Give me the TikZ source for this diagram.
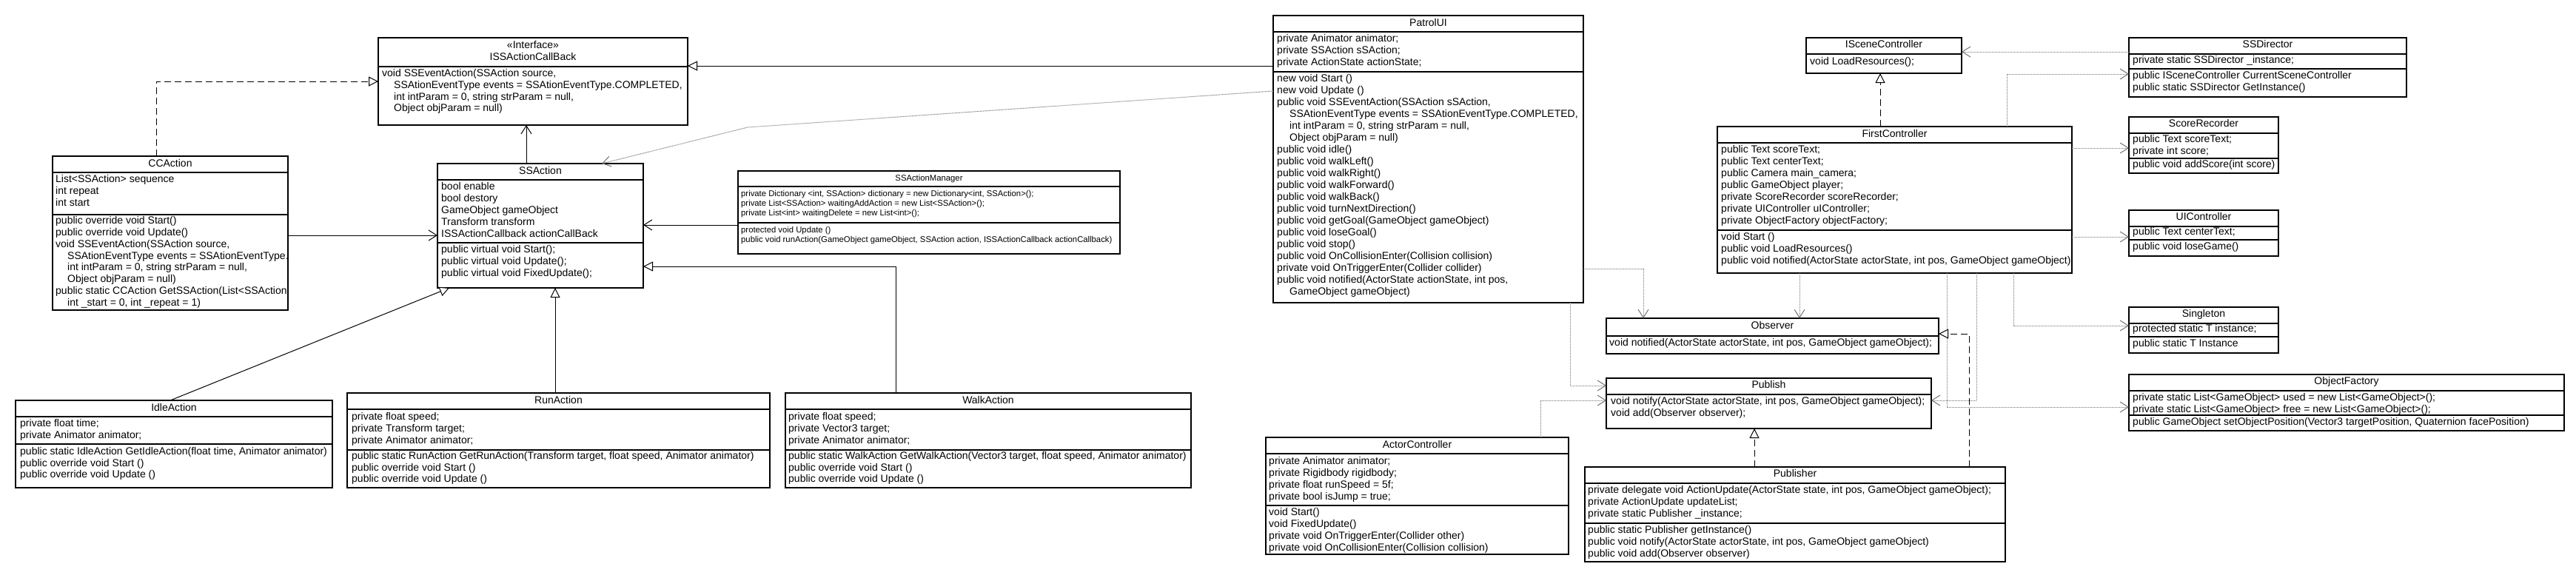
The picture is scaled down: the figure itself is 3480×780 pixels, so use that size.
\documentclass[tikz,border=0pt]{standalone}
\usepackage{fontspec}
\setmainfont{Liberation Sans}
\usetikzlibrary{arrows.meta}
\newcounter{tln}
\newcommand{\umlbox}[5]{\node[clsbox, minimum width={(#4-#2)*1pt}, minimum height={(#5-#3)*1pt}] (#1) at ({(#2+#4)/2},{(#3+#5)/2}) {};}
\newcommand{\hdiv}[2]{\draw[clsline] (#1.west |- 0,#2) -- (#1.east |- 0,#2);}
\newcommand{\tl}[3]{\stepcounter{tln}\node[txt] (t\arabic{tln}) at (#1,#2) {#3};}
\newcommand{\tls}[3]{\stepcounter{tln}\node[txt, small] (t\arabic{tln}) at (#1,#2) {#3};}
\newcommand{\ttl}[4]{\node[ttl] (#1) at (#2,#3) {#4};}
\tikzset{
 clsbox/.style={draw=black, line width=1.2pt, fill=white, inner sep=0pt, outer sep=0pt, rectangle},
 clsline/.style={draw=black, line width=1.2pt},
 txt/.style={anchor=mid west, inner sep=0pt, font=\fontsize{14}{16}\selectfont},
 ttl/.style={anchor=mid, inner sep=0pt, font=\fontsize{14}{16}\selectfont},
 small/.style={font=\fontsize{11.3}{13}\selectfont},
 gen/.style={line width=1pt, -{Triangle[open, length=13pt, width=13pt, fill=white]}},
 real/.style={gen, dash pattern=on 9pt off 5pt},
 assoc/.style={line width=1pt, -{Straight Barb[length=11pt, width=14pt]}},
 dep/.style={line width=1pt, draw=black!55, densely dotted, -{Straight Barb[length=11pt, width=14pt]}},
}
\begin{document}
\begin{tikzpicture}[x=1pt, y=-1pt]
\fill[white] (0,0) rectangle (3480,780);
\useasboundingbox (0,0) rectangle (3480,780);

% ISSActionCallBack
\umlbox{iss}{511}{51}{929}{169}
\hdiv{iss}{90}
\ttl{iss-s}{720}{63}{«Interface»}
\ttl{iss-n}{720}{79}{ISSActionCallBack}
\tl{516}{101}{void SSEventAction(SSAction source,}
\tl{532}{117}{SSAtionEventType events = SSAtionEventType.COMPLETED,}
\tl{532}{132.5}{int intParam = 0, string strParam = null,}
\tl{532}{148}{Object objParam = null)}

% CCAction
\umlbox{cc}{71}{211}{389}{419}
\hdiv{cc}{233}\hdiv{cc}{290}
\ttl{cc-n}{230}{223}{CCAction}
\begin{scope}
\clip (71,211) rectangle (389,419);
\tl{75}{244}{List<SSAction> sequence}
\tl{75}{260}{int repeat}
\tl{75}{276}{int start}
\tl{75}{300}{public override void Start()}
\tl{75}{316}{public override void Update()}
\tl{75}{332}{void SSEventAction(SSAction source,}
\tl{91}{348}{SSAtionEventType events = SSAtionEventType.COMPLETED,}
\tl{91}{363}{int intParam = 0, string strParam = null,}
\tl{91}{379}{Object objParam = null)}
\tl{75}{395}{public static CCAction GetSSAction(List<SSAction> sequence,}
\tl{91}{411}{int \_start = 0, int \_repeat = 1)}
\end{scope}

% SSAction
\umlbox{ssa}{591}{221}{869}{389}
\hdiv{ssa}{243}\hdiv{ssa}{328}
\ttl{ssa-n}{730}{233}{SSAction}
\tl{596}{254}{bool enable}
\tl{596}{270}{bool destory}
\tl{596}{286}{GameObject gameObject}
\tl{596}{302}{Transform transform}
\tl{596}{318}{ISSActionCallback actionCallBack}
\tl{596}{339}{public virtual void Start();}
\tl{596}{355}{public virtual void Update();}
\tl{596}{371}{public virtual void FixedUpdate();}

% SSActionManager (smaller type)
\umlbox{mgr}{997}{231}{1513}{343}
\hdiv{mgr}{252}\hdiv{mgr}{301}
\node[ttl, small] (mgr-n) at (1255,242) {SSActionManager};
\tls{1001}{263}{private Dictionary <int, SSAction> dictionary = new Dictionary<int, SSAction>();}
\tls{1001}{276}{private List<SSAction> waitingAddAction = new List<SSAction>();}
\tls{1001}{289}{private List<int> waitingDelete = new List<int>();}
\tls{1001}{312}{protected void Update ()}
\tls{1001}{325}{public void runAction(GameObject gameObject, SSAction action, ISSActionCallback actionCallback)}

% PatrolUI
\umlbox{pat}{1720}{21}{2139}{409}
\hdiv{pat}{43}\hdiv{pat}{97}
\ttl{pat-n}{1929.5}{33}{PatrolUI}
\tl{1725}{54}{private Animator animator;}
\tl{1725}{70}{private SSAction sSAction;}
\tl{1725}{86}{private ActionState actionState;}
\tl{1725}{108}{new void Start ()}
\tl{1725}{124}{new void Update ()}
\tl{1725}{140}{public void SSEventAction(SSAction sSAction,}
\tl{1742}{156}{SSAtionEventType events = SSAtionEventType.COMPLETED,}
\tl{1742}{172}{int intParam = 0, string strParam = null,}
\tl{1742}{188}{Object objParam = null)}
\tl{1725}{204}{public void idle()}
\tl{1725}{220}{public void walkLeft()}
\tl{1725}{236}{public void walkRight()}
\tl{1725}{252}{public void walkForward()}
\tl{1725}{268}{public void walkBack()}
\tl{1725}{284}{public void turnNextDirection()}
\tl{1725}{300}{public void getGoal(GameObject gameObject)}
\tl{1725}{316}{public void loseGoal()}
\tl{1725}{332}{public void stop()}
\tl{1725}{348}{public void OnCollisionEnter(Collision collision)}
\tl{1725}{364}{private void OnTriggerEnter(Collider collider)}
\tl{1725}{380}{public void notified(ActorState actionState, int pos,}
\tl{1742}{396}{GameObject gameObject)}

% IdleAction
\umlbox{idle}{21}{541}{449}{659}
\hdiv{idle}{563}\hdiv{idle}{600}
\ttl{idle-n}{235}{553}{IdleAction}
\tl{27}{574}{private float time;}
\tl{27}{590}{private Animator animator;}
\tl{27}{612}{public static IdleAction GetIdleAction(float time, Animator animator)}
\tl{27}{628}{public override void Start ()}
\tl{27}{643}{public override void Update ()}

% RunAction
\umlbox{run}{469}{531}{1040}{659}
\hdiv{run}{553}\hdiv{run}{608}
\ttl{run-n}{754.5}{543}{RunAction}
\tl{475}{565}{private float speed;}
\tl{475}{581}{private Transform target;}
\tl{475}{597}{private Animator animator;}
\tl{475}{618}{public static RunAction GetRunAction(Transform target, float speed, Animator animator)}
\tl{475}{634}{public override void Start ()}
\tl{475}{649}{public override void Update ()}

% WalkAction
\umlbox{walk}{1061}{531}{1609}{659}
\hdiv{walk}{553}\hdiv{walk}{608}
\ttl{walk-n}{1335}{543}{WalkAction}
\tl{1065}{565}{private float speed;}
\tl{1065}{581}{private Vector3 target;}
\tl{1065}{597}{private Animator animator;}
\tl{1065}{618}{public static WalkAction GetWalkAction(Vector3 target, float speed, Animator animator)}
\tl{1065}{634}{public override void Start ()}
\tl{1065}{649}{public override void Update ()}

% ActorController
\umlbox{actor}{1710}{591}{2119}{749}
\hdiv{actor}{613}\hdiv{actor}{683}
\ttl{actor-n}{1914.5}{603}{ActorController}
\tl{1714}{625}{private Animator animator;}
\tl{1714}{641}{private Rigidbody rigidbody;}
\tl{1714}{657}{private float runSpeed = 5f;}
\tl{1714}{673}{private bool isJump = true;}
\tl{1714}{694}{void Start()}
\tl{1714}{710}{void FixedUpdate()}
\tl{1714}{726}{private void OnTriggerEnter(Collider other)}
\tl{1714}{742}{private void OnCollisionEnter(Collision collision)}

% ISceneController
\umlbox{isc}{2440}{51}{2650}{99}
\hdiv{isc}{73}
\ttl{isc-n}{2545}{62}{ISceneController}
\tl{2445}{85}{void LoadResources();}

% FirstController
\umlbox{fc}{2320}{171}{2799}{369}
\hdiv{fc}{193}\hdiv{fc}{311}
\ttl{fc-n}{2559.5}{183}{FirstController}
\tl{2325}{204}{public Text scoreText;}
\tl{2325}{220}{public Text centerText;}
\tl{2325}{236}{public Camera main\_camera;}
\tl{2325}{252}{public GameObject player;}
\tl{2325}{268}{private ScoreRecorder scoreRecorder;}
\tl{2325}{284}{private UIController uIController;}
\tl{2325}{300}{private ObjectFactory objectFactory;}
\tl{2325}{322}{void Start ()}
\tl{2325}{338}{public void LoadResources()}
\tl{2325}{354}{public void notified(ActorState actorState, int pos, GameObject gameObject)}

% Observer
\umlbox{obs}{2170}{430}{2619}{478}
\hdiv{obs}{454}
\ttl{obs-n}{2394.5}{442}{Observer}
\tl{2174}{465}{void notified(ActorState actorState, int pos, GameObject gameObject);}

% Publish
\umlbox{pub}{2170}{511}{2609}{579}
\hdiv{pub}{533}
\ttl{pub-n}{2389.5}{522}{Publish}
\tl{2176}{544}{void notify(ActorState actorState, int pos, GameObject gameObject);}
\tl{2176}{560}{void add(Observer observer);}

% Publisher
\umlbox{pubr}{2141}{631}{2709}{759}
\hdiv{pubr}{653}\hdiv{pubr}{707}
\ttl{pubr-n}{2425}{642}{Publisher}
\tl{2145}{664}{private delegate void ActionUpdate(ActorState state, int pos, GameObject gameObject);}
\tl{2145}{680}{private ActionUpdate updateList;}
\tl{2145}{696}{private static Publisher \_instance;}
\tl{2145}{718}{public static Publisher getInstance()}
\tl{2145}{734}{public void notify(ActorState actorState, int pos, GameObject gameObject)}
\tl{2145}{750}{public void add(Observer observer)}

% SSDirector
\umlbox{ssd}{2876}{51}{3251}{131}
\hdiv{ssd}{73}\hdiv{ssd}{93}
\ttl{ssd-n}{3063.5}{62}{SSDirector}
\tl{2881}{83}{private static SSDirector \_instance;}
\tl{2881}{104}{public ISceneController CurrentSceneController}
\tl{2881}{120}{public static SSDirector GetInstance()}

% ScoreRecorder
\umlbox{sr}{2876}{158}{3078}{234}
\hdiv{sr}{180}\hdiv{sr}{214}
\ttl{sr-n}{2977}{169}{ScoreRecorder}
\tl{2881}{190}{public Text scoreText;}
\tl{2881}{206}{private int score;}
\tl{2881}{224}{public void addScore(int score)}

% UIController
\umlbox{uic}{2876}{284}{3078}{346}
\hdiv{uic}{306}\hdiv{uic}{324}
\ttl{uic-n}{2977}{295}{UIController}
\tl{2881}{315}{public Text centerText;}
\tl{2881}{335}{public void loseGame()}

% Singleton
\umlbox{sing}{2876}{415}{3078}{477}
\hdiv{sing}{437}\hdiv{sing}{455}
\ttl{sing-n}{2977}{426}{Singleton}
\tl{2881}{446}{protected static T instance;}
\tl{2881}{466}{public static T Instance}

% ObjectFactory
\umlbox{of}{2876}{506}{3464}{582}
\hdiv{of}{528}\hdiv{of}{561}
\ttl{of-n}{3170}{517}{ObjectFactory}
\begin{scope}
\clip (2876,506) rectangle (3464,582);
\tl{2881}{539}{private static List<GameObject> used = new List<GameObject>();}
\tl{2881}{555}{private static List<GameObject> free = new List<GameObject>();}
\tl{2881}{572}{public GameObject setObjectPosition(Vector3 targetPosition, Quaternion facePosition)}
\end{scope}

% ---- connectors ----
\coordinate (bend1) at (1010,172);
\draw[real] (cc.north -| 211,0) |- (iss.west |- 0,110);
\draw[assoc] (cc.east |- 0,318) -- (ssa.west |- 0,318);
\draw[assoc] (ssa.north -| 711,0) -- (iss.south -| 711,0);
\draw[assoc] (mgr.west |- 0,304) -- (ssa.east |- 0,304);
\draw[gen] (walk.north -| 1210,0) |- (ssa.east |- 0,360);
\draw[gen] (run.north -| 750,0) -- (ssa.south -| 750,0);
\draw[gen] (idle.north -| 230,0) -- (ssa.south -| 607,0);
\draw[gen] (pat.west |- 0,89) -- (iss.east |- 0,89);
\draw[dep] (pat.west |- 0,123) -- (bend1) -- (ssa.north -| 813,0);

\draw[real] (fc.north -| 2540,0) -- (isc.south -| 2540,0);
\draw[dep] (ssd.west |- 0,70) -- (isc.east |- 0,70);
\draw[dep] (fc.north -| 2711,0) |- (ssd.west |- 0,100);
\draw[dep] (fc.east |- 0,200) -- (sr.west |- 0,200);
\draw[dep] (fc.east |- 0,320) -- (uic.west |- 0,320);
\draw[dep] (fc.south -| 2720,0) |- (sing.west |- 0,440);
\draw[dep] (fc.south -| 2630,0) |- (of.west |- 0,550);
\draw[dep] (fc.south -| 2670,0) |- (pub.east |- 0,541);
\draw[dep] (fc.south -| 2431,0) -- (obs.north -| 2431,0);
\draw[dep] (pat.east |- 0,363) -| (obs.north -| 2220,0);
\draw[dep] (pat.south -| 2121,0) |- (pub.west |- 0,521);
\draw[dep] (actor.north -| 2081,0) |- (pub.west |- 0,541);
\draw[real] (pubr.north -| 2660,0) |- (obs.east |- 0,451);
\draw[real] (pubr.north -| 2370,0) -- (pub.south -| 2370,0);
\end{tikzpicture}
\end{document}
